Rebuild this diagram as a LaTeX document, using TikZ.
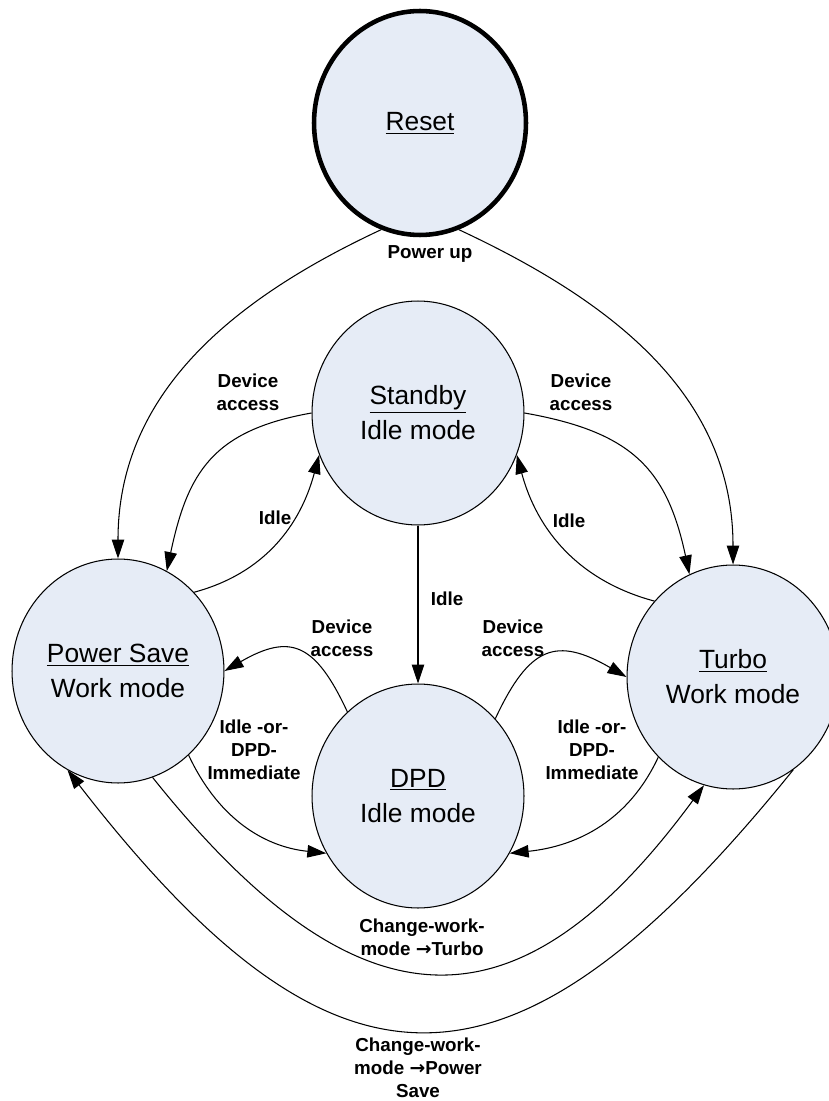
\documentclass[tikz,border=0pt]{standalone}
\usepackage{fontspec}
\setmainfont{Liberation Sans}
\newfontfamily\pfeilfont{DejaVu Sans}
\usetikzlibrary{shapes.geometric,arrows.meta}
\definecolor{zfill}{RGB}{230,236,246}

\begin{document}
\begin{tikzpicture}[x=0.02cm,y=-0.02cm,
  zustand/.style={ellipse,draw,fill=zfill,line width=0.6pt,minimum width=4.24cm,minimum height=4.48cm,inner sep=0pt,align=center,font=\fontsize{15}{20}\selectfont},
  pfeil/.style={line width=0.6pt,-{Triangle[length=0.38cm,width=0.25cm]}},
  marke/.style={font=\bfseries\fontsize{10.7}{13}\selectfont,align=center}]

\useasboundingbox (0,0) rectangle (828,1101);

% zustaende
\node[zustand,line width=2.6pt](reset) at (420,123){\underline{Reset}};
\node[zustand](standby) at (418,413){\underline{Standby}\\Idle mode};
\node[zustand](ps) at (118,671){\underline{Power Save}\\Work mode};
\node[zustand](dpd) at (418,796){\underline{DPD}\\Idle mode};
\node[zustand](turbo) at (733,677){\underline{Turbo}\\Work mode};

% uebergaenge
\draw[pfeil] (reset.-110) to[out=205,in=90] (ps.north);
\draw[pfeil] (reset.-70) to[out=-25,in=90] (turbo.north);
\draw[pfeil] (standby.west) to[out=190,in=78,looseness=1.2] (ps.64);
\draw[pfeil] (ps.46) to[out=15,in=-105] (standby.203);
\draw[pfeil] (standby.east) to[out=-10,in=102,looseness=1.2] (turbo.113);
\draw[pfeil] (turbo.136) to[out=165,in=-75] (standby.-23);
\draw[pfeil] (standby.south) -- (dpd.north);
\draw[pfeil] (dpd.130) to[out=115,in=30,looseness=1.5] (ps.east);
\draw[pfeil] (dpd.45) to[out=65,in=150,looseness=1.5] (turbo.west);
\draw[pfeil] (ps.-50) to[out=-65,in=174] (dpd.212);
\draw[pfeil] (turbo.-133) to[out=-115,in=6] (dpd.-32);
% grosse boegen unten
\draw[pfeil] (ps.-72) .. controls (360,1037) and (519,1037) .. (turbo.-105);
\draw[pfeil] (turbo.-57) .. controls (512,1118) and (337,1118) .. (ps.-117);

% beschriftungen
\node[marke](lpowerup) at (430,254){Power up};
\node[marke](ldevl) at (248,392){Device\\access};
\node[marke](ldevr) at (581,392){Device\\access};
\node[marke](lidlel) at (275,518){Idle};
\node[marke](lidler) at (569,521){Idle};
\node[marke](lidlem) at (447,599){Idle};
\node[marke](ldevdl) at (342,638){Device\\access};
\node[marke](ldevdr) at (513,638){Device\\access};
\node[marke](limml) at (254,750){Idle -or-\\DPD-\\Immediate};
\node[marke](limmr) at (592,750){Idle -or-\\DPD-\\Immediate};
\node[marke](lturbo) at (422,937){Change-work-\\mode {\pfeilfont →}Turbo};
\node[marke](lps) at (418,1068){Change-work-\\mode {\pfeilfont →}Power\\Save};

\end{tikzpicture}
\end{document}
